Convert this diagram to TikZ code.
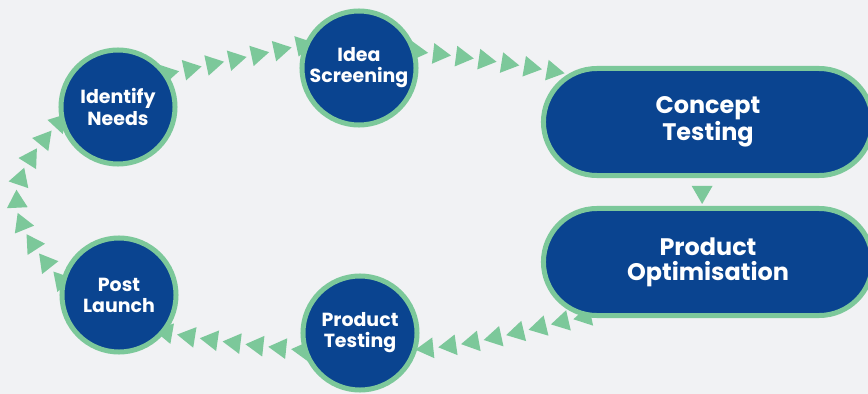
\documentclass[tikz,border=0pt]{standalone}
\usepackage{fontspec}
\setmainfont{Poppins}
\usetikzlibrary{shapes.misc,decorations.markings,backgrounds}
\definecolor{paper}{HTML}{F1F2F4}
\definecolor{navy}{HTML}{0A4490}
\definecolor{mint}{HTML}{7CC89A}
\tikzset{
  stage/.style={circle,draw=mint,fill=navy,line width=0.125cm,minimum size=2.85cm,inner sep=0pt,align=center,text=white,font=\fontsize{13.5}{15}\selectfont\bfseries},
  pill/.style={rounded rectangle,draw=mint,fill=navy,line width=0.125cm,minimum width=8.225cm,minimum height=2.675cm,inner sep=0pt,align=center,text=white,font=\fontsize{17}{18}\selectfont\bfseries},
  flow/.style={postaction=decorate,decoration={markings,mark=between positions 0 and 1 step 0.575cm with {\fill[mint] (12,0)--(-6,10.4)--(-6,-10.4)--cycle;}}},
  flowone/.style={postaction=decorate,decoration={markings,mark=at position 0.5 with {\fill[mint] (12,0)--(-6,10.4)--(-6,-10.4)--cycle;}}}
}
\begin{document}
\begin{tikzpicture}[x=0.025cm,y=-0.025cm,line join=round]
\useasboundingbox (0,0) rectangle (868,394);
\clip (0,0) rectangle (868,394);
\path
(118,107)coordinate(I)
(359,68)coordinate(S)
(708,122)coordinate(C)
(708,262)coordinate(O)
(360,333)coordinate(T)
(119,295)coordinate(L)
;
\foreach \x/\txt in {I/Identify\\Needs,S/Idea\\Screening,T/Product\\Testing,L/Post\\Launch} \node[stage](n\x) at (\x){\txt};
\foreach \x/\txt in {C/Concept\\Testing,O/Product\\Optimisation} \node[pill](n\x) at (\x){\txt};
\begin{scope}[on background layer]
\fill[paper] (0,0) rectangle (868,394);
\path[flow] (nI.34) -- (nS.157);
\path[flow] (nS.16) to[out=-6,in=170] (nC.161);
\path[flowone] (nC.-96) -- (nO.96);
\path[flow] (nO.204) to[out=192,in=5] (nT.-16);
\path[flow] (nT.197) to[out=174,in=-10] (nL.-39);
\path[flow] (nL.166) to[out=131,in=-133,looseness=1.4] (nI.194);
\end{scope}
\end{tikzpicture}
\end{document}
